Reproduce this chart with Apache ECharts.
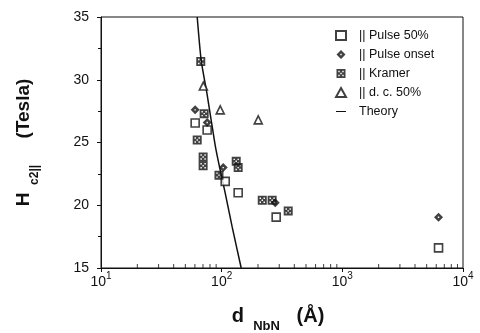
<!DOCTYPE html>
<html>
<head>
<meta charset="utf-8">
<script src="https://cdn.jsdelivr.net/npm/echarts@6/dist/echarts.min.js"></script>
<style>
  html, body { margin: 0; padding: 0; background: #fff; }
  #chart { width: 480px; height: 333px; }
</style>
</head>
<body>
<div id="chart"></div>
<script>
// values: [d (Å), H (Tesla)]
const pulse50 = [[60.3, 26.55], [75.8, 26.0], [107, 21.9], [137, 21.0], [283, 19.05], [6270, 16.6]];
const pulseOnset = [[60.3, 27.6], [75.9, 26.6], [103, 23.0], [278, 20.2], [6270, 19.05]];
const kramer = [[67.1, 31.45], [71.6, 27.3], [62.7, 25.2], [70.2, 23.85], [70.2, 23.15],
  [132, 23.5], [137, 23.0], [95, 22.4], [217, 20.4], [262, 20.4], [356, 19.55]];
const dc50 = [[70.5, 29.5], [97.3, 27.6], [201, 26.8]];
const theory = [[62.7, 35], [67.6, 31.57], [75.9, 28.78], [88.3, 24.8], [95.3, 23.2],
  [106.9, 20.98], [122.2, 18.27], [145.2, 15]];

const xTicks = [10, 100, 1000, 10000];
const xMinorTicks = [20, 30, 40, 50, 60, 70, 80, 90, 200, 300, 400, 500, 600, 700, 800, 900,
  2000, 3000, 4000, 5000, 6000, 7000, 8000, 9000];
const yTicks = [15, 20, 25, 30, 35];

const seriesNames = ['|| Pulse 50%', '|| Pulse onset', '|| Kramer', '|| d. c. 50%', 'Theory'];

// dotted symbols: filled shape with small holes
const kramerSym = 'path://M0,0 L10,0 L10,10 L0,10 Z M2,2 L2,3.6 L3.6,3.6 L3.6,2 Z M6.4,2 L6.4,3.6 L8,3.6 L8,2 Z M2,6.4 L2,8 L3.6,8 L3.6,6.4 Z M6.4,6.4 L6.4,8 L8,8 L8,6.4 Z M4.2,4.2 L4.2,5.8 L5.8,5.8 L5.8,4.2 Z';
const onsetSym = 'path://M5,0 L10,5 L5,10 L0,5 Z M4.2,4.2 L4.2,5.8 L5.8,5.8 L5.8,4.2 Z';
const lineIcon = 'path://M0,0 L16,0 L16,1.6 L0,1.6 Z';

const font = 'Liberation Sans';
const chart = echarts.init(document.getElementById('chart'));

chart.setOption({
  animation: false,
  backgroundColor: '#fff',
  grid: {
    left: 101, right: 17, top: 17, bottom: 65,
    outerBoundsMode: 'none', containLabel: false,
    show: true, borderColor: '#111', borderWidth: 1
  },
  legend: {
    orient: 'vertical',
    left: 330,
    top: 24,
    itemWidth: 10,
    itemHeight: 9,
    itemGap: 6,
    data: [
      { name: seriesNames[0] },
      { name: seriesNames[1] },
      { name: seriesNames[2] },
      { name: seriesNames[3] },
      { name: seriesNames[4], icon: lineIcon }
    ],
    textStyle: { fontFamily: font, fontSize: 12.5, color: '#111', padding: [0, 0, 0, 8] }
  },
  xAxis: {
    type: 'log',
    logBase: 10,
    min: xTicks[0],
    max: xTicks[xTicks.length - 1],
    splitLine: { show: false },
    axisLine: { lineStyle: { color: '#111', width: 1 } },
    axisTick: { length: 4, lineStyle: { color: '#111' } },
    axisLabel: {
      margin: 3,
      formatter: v => '{b|10}{s|' + Math.round(Math.log10(v)) + '}',
      rich: {
        b: { fontFamily: font, fontSize: 14, color: '#111', lineHeight: 18, verticalAlign: 'bottom' },
        s: { fontFamily: font, fontSize: 10, color: '#111', lineHeight: 10, verticalAlign: 'top' }
      }
    },
    name: '{d|d}{sub|  NbN}{d|   (Å)}',
    nameLocation: 'middle',
    nameGap: 38,
    nameTextStyle: {
      padding: [0, 8, 0, 0],
      rich: {
        d: { fontFamily: font, fontSize: 20, fontWeight: 'bold', color: '#111', lineHeight: 22, verticalAlign: 'top' },
        sub: { fontFamily: font, fontSize: 13, fontWeight: 'bold', color: '#111', lineHeight: 12, verticalAlign: 'bottom', padding: [0, 0, -5, 2] }
      }
    }
  },
  yAxis: {
    type: 'value',
    min: yTicks[0],
    max: yTicks[yTicks.length - 1],
    interval: 5,
    splitLine: { show: false },
    axisLine: { show: true, lineStyle: { color: '#111', width: 1 } },
    axisTick: { length: 4, lineStyle: { color: '#111' } },
    minorTick: { show: true, splitNumber: 2, length: 3, lineStyle: { color: '#111' } },
    axisLabel: { fontFamily: font, fontSize: 14, color: '#111', margin: 12 },
    name: '{h|H}{sub|  c2||}{h|     (Tesla)}',
    nameLocation: 'middle',
    nameRotate: 90,
    nameGap: 65,
    nameTextStyle: {
      rich: {
        h: { fontFamily: font, fontSize: 19, fontWeight: 'bold', color: '#111', lineHeight: 22, verticalAlign: 'top' },
        sub: { fontFamily: font, fontSize: 12, fontWeight: 'bold', color: '#111', lineHeight: 12, verticalAlign: 'bottom', padding: [0, 0, -5, 1] }
      }
    }
  },
  series: [
    {
      name: seriesNames[0], type: 'scatter', data: pulse50,
      symbol: 'rect', symbolSize: 8,
      itemStyle: { color: '#fff', borderColor: '#111', borderWidth: 1.6 }, z: 4
    },
    {
      name: seriesNames[1], type: 'scatter', data: pulseOnset,
      symbol: onsetSym, symbolSize: 9,
      itemStyle: { color: '#111' }, z: 5
    },
    {
      name: seriesNames[2], type: 'scatter', data: kramer,
      symbol: kramerSym, symbolSize: 9,
      itemStyle: { color: '#111' }, z: 5
    },
    {
      name: seriesNames[3], type: 'scatter', data: dc50,
      symbol: 'triangle', symbolSize: 8,
      itemStyle: { color: '#fff', borderColor: '#111', borderWidth: 1.6 }, z: 4
    },
    {
      name: seriesNames[4], type: 'line', data: theory,
      symbol: 'none', smooth: 0.2,
      lineStyle: { color: '#111', width: 1.5 }, itemStyle: { color: '#111' }, z: 3
    },
    {
      // log-spaced minor ticks along the bottom axis
      name: 'minor', type: 'scatter', silent: true,
      data: xMinorTicks.map(v => [v, yTicks[0]]),
      symbol: 'rect', symbolSize: [1, 4], symbolOffset: [0, -2],
      itemStyle: { color: '#111' }, z: 6
    }
  ]
});
</script>
</body>
</html>
